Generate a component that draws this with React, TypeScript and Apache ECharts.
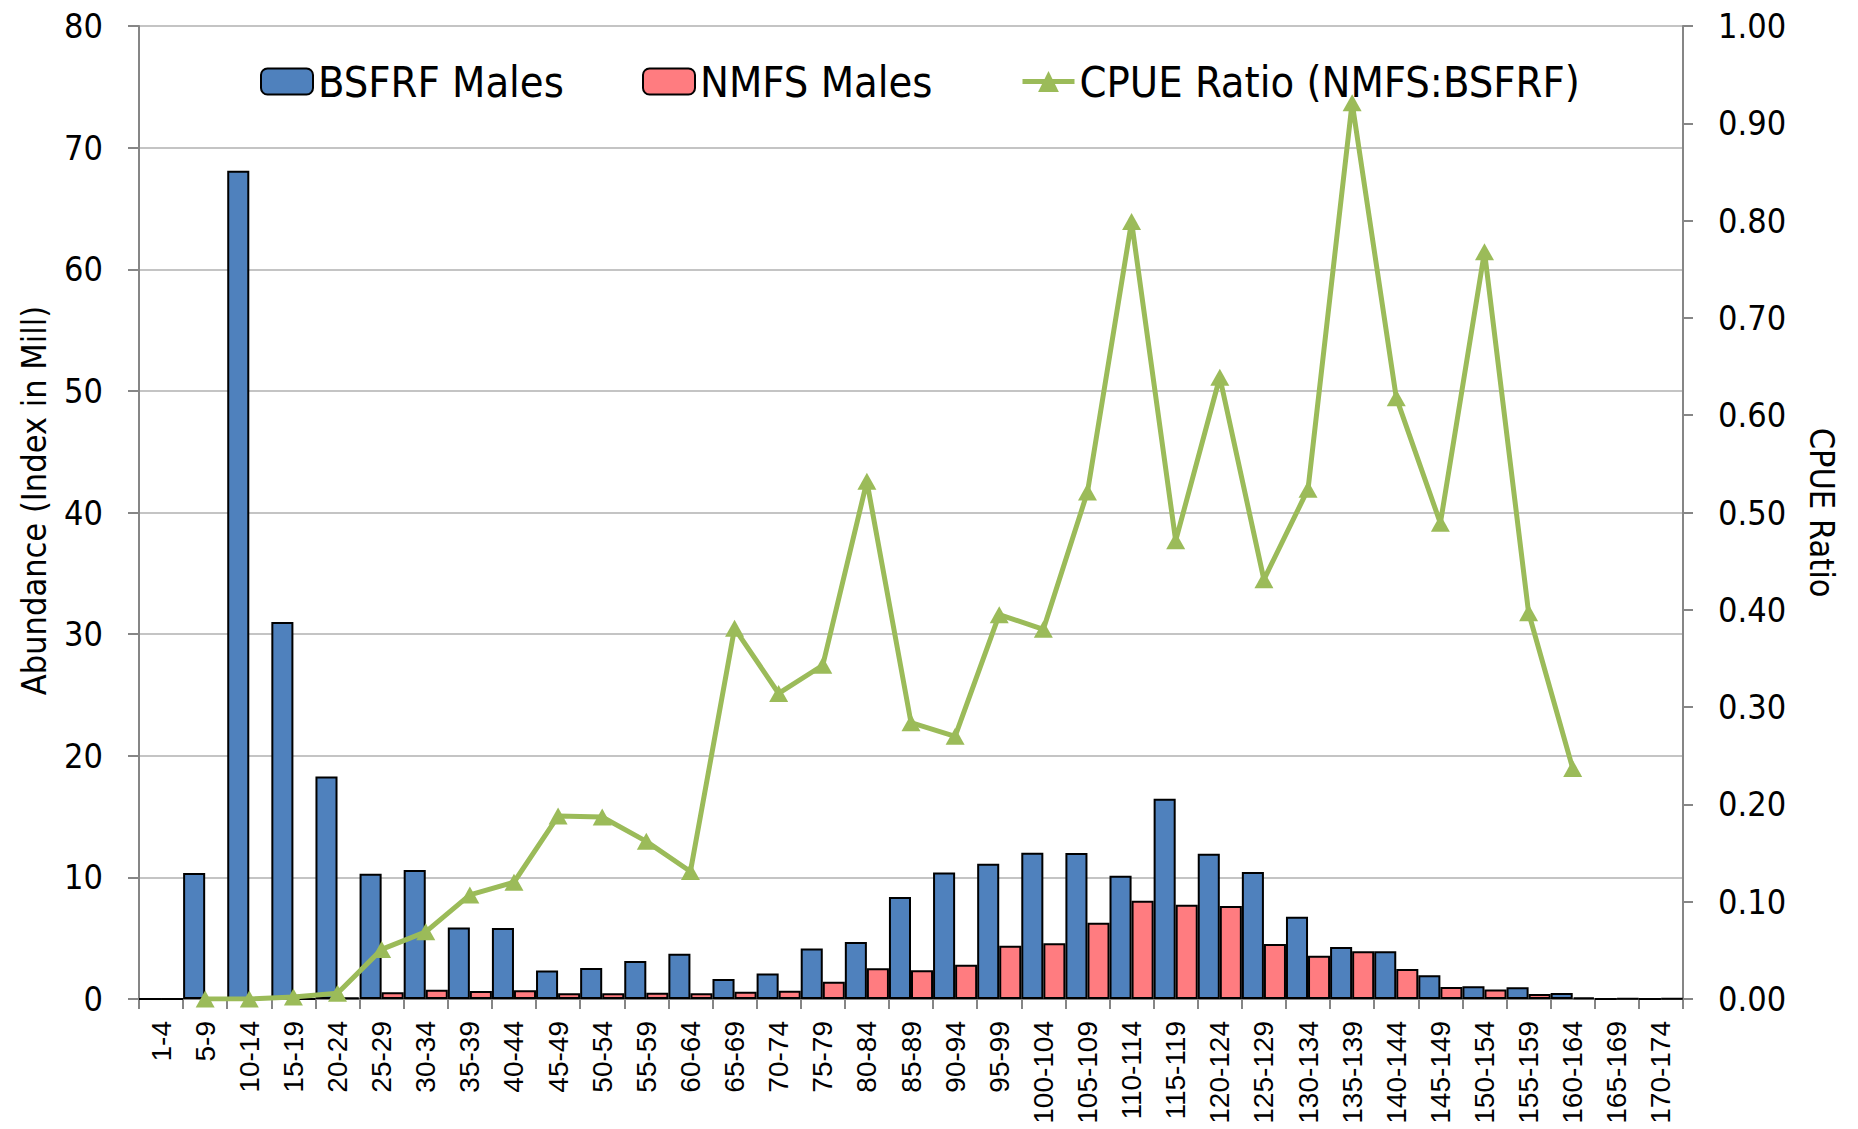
import React, { useEffect, useRef } from "react";
import * as echarts from "echarts";

const categories = [
  "1-4", "5-9", "10-14", "15-19", "20-24", "25-29", "30-34", "35-39", "40-44",
  "45-49", "50-54", "55-59", "60-64", "65-69", "70-74", "75-79", "80-84",
  "85-89", "90-94", "95-99", "100-104", "105-109", "110-114", "115-119",
  "120-124", "125-129", "130-134", "135-139", "140-144", "145-149", "150-154",
  "155-159", "160-164", "165-169", "170-174",
];

const bsfrfMales = [
  0, 10.35, 68.1, 31.0, 18.3, 10.3, 10.6, 5.88, 5.83, 2.35, 2.55, 3.12, 3.73,
  1.64, 2.1, 4.16, 4.68, 8.38, 10.4, 11.12, 12.03, 12.0, 10.14, 16.47, 11.95,
  10.44, 6.77, 4.27, 3.92, 1.95, 1.04, 0.96, 0.49, 0, 0,
];

const nmfsMales = [
  0, 0, 0, 0, 0.12, 0.55, 0.77, 0.66, 0.71, 0.47, 0.47, 0.52, 0.47, 0.6, 0.68,
  1.42, 2.52, 2.36, 2.82, 4.38, 4.58, 6.27, 8.08, 7.75, 7.64, 4.52, 3.56, 3.92,
  2.47, 0.99, 0.79, 0.41, 0.14, 0.04, 0.04,
];

const cpueRatio = [
  null, 0, 0, 0.002, 0.006, 0.051, 0.069, 0.107, 0.12, 0.188, 0.187, 0.162,
  0.131, 0.381, 0.314, 0.343, 0.532, 0.284, 0.27, 0.395, 0.38, 0.521, 0.799,
  0.471, 0.639, 0.431, 0.524, 0.921, 0.618, 0.489, 0.768, 0.397, 0.237, null,
  null,
];

const NARROW = '"DejaVu Sans Condensed", "DejaVu Sans", sans-serif';
const REGULAR = '"Liberation Sans", Arial, sans-serif';
const AXIS_GRAY = "#868686";
const GREEN = "#9BBB59";

const legendBase = {
  top: 55,
  itemWidth: 52,
  itemHeight: 26,
  itemGap: 0,
  textStyle: { fontFamily: NARROW, fontSize: 43, color: "#000" },
};

export default function App() {
  const ref = useRef<HTMLDivElement>(null);

  useEffect(() => {
    if (!ref.current) return;
    const chart = echarts.init(ref.current, undefined, { renderer: "svg" });
    chart.setOption({
      animation: false,
      backgroundColor: "#ffffff",
      grid: {
        left: 139,
        right: 175,
        top: 26,
        bottom: 130,
        containLabel: false,
        outerBoundsMode: "none",
      },
      legend: [
        { ...legendBase, left: 255, data: ["BSFRF Males"] },
        { ...legendBase, left: 637, data: ["NMFS Males"] },
        {
          ...legendBase,
          left: 1015,
          lineStyle: { width: 5, color: GREEN },
          data: ["CPUE Ratio (NMFS:BSFRF)"],
        },
      ],
      xAxis: {
        type: "category",
        data: categories,
        boundaryGap: true,
        axisLine: { lineStyle: { color: AXIS_GRAY, width: 2 } },
        axisTick: { show: true, length: 10, alignWithLabel: false, lineStyle: { color: AXIS_GRAY, width: 2 } },
        axisLabel: {
          interval: 0,
          rotate: 90,
          margin: 22,
          fontFamily: REGULAR,
          fontSize: 28,
          color: "#000",
        },
        splitLine: { show: false },
      },
      yAxis: [
        {
          type: "value",
          min: 0,
          max: 80,
          interval: 10,
          position: "left",
          name: "Abundance (Index in Mill)",
          nameLocation: "middle",
          nameGap: 88,
          nameTextStyle: { fontFamily: NARROW, fontSize: 34, color: "#000", padding: [0, 0, 0, 24] },
          axisLine: { show: true, lineStyle: { color: AXIS_GRAY, width: 2 } },
          axisTick: { show: true, length: 11, lineStyle: { color: AXIS_GRAY, width: 2 } },
          axisLabel: { margin: 36, fontFamily: NARROW, fontSize: 34, color: "#000" },
          splitLine: { show: true, lineStyle: { color: "#c4c4c4", width: 2 } },
        },
        {
          type: "value",
          min: 0,
          max: 1,
          interval: 0.1,
          position: "right",
          name: "CPUE Ratio",
          nameLocation: "middle",
          nameRotate: -90,
          nameGap: 122,
          nameTextStyle: { fontFamily: NARROW, fontSize: 34, color: "#000" },
          axisLine: { show: true, lineStyle: { color: AXIS_GRAY, width: 2 } },
          axisTick: { show: true, length: 10, lineStyle: { color: AXIS_GRAY, width: 2 } },
          axisLabel: {
            margin: 35,
            fontFamily: NARROW,
            fontSize: 34,
            color: "#000",
            formatter: (v: number) => v.toFixed(2),
          },
          splitLine: { show: false },
        },
      ],
      series: [
        {
          name: "BSFRF Males",
          type: "bar",
          data: bsfrfMales,
          barGap: "0%",
          barCategoryGap: "0%",
          itemStyle: { color: "#4F81BD", borderColor: "#000", borderWidth: 2 },
          z: 2,
        },
        {
          name: "NMFS Males",
          type: "bar",
          data: nmfsMales,
          barGap: "0%",
          barCategoryGap: "0%",
          itemStyle: { color: "#FF7C80", borderColor: "#000", borderWidth: 2 },
          z: 2,
        },
        {
          name: "CPUE Ratio (NMFS:BSFRF)",
          type: "line",
          yAxisIndex: 1,
          data: cpueRatio,
          connectNulls: false,
          symbol: "triangle",
          symbolSize: [19, 17],
          lineStyle: { color: GREEN, width: 5 },
          itemStyle: { color: GREEN },
          z: 5,
        },
      ],
    });
    return () => chart.dispose();
  }, []);

  return (
    <div
      ref={ref}
      style={{ position: "fixed", left: 0, top: 0, width: 1858, height: 1129 }}
    />
  );
}
